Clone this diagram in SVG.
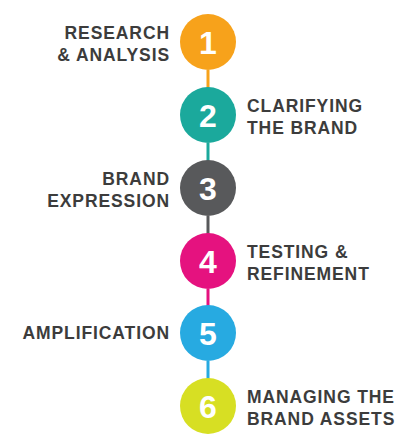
<svg xmlns="http://www.w3.org/2000/svg" width="416" height="445" viewBox="0 0 416 445">
<style>
.lbl{font-family:"Liberation Sans",Arial,sans-serif;font-weight:bold;font-size:17.5px;fill:#3c3c3c;letter-spacing:0.9px}
.l{text-anchor:end}
.num{font-family:"Liberation Sans",Arial,sans-serif;font-weight:bold;font-size:32px;fill:#ffffff;text-anchor:middle}
.c{stroke-width:3;fill:none}
</style>
<rect width="416" height="445" fill="#ffffff"/>
<g id="connectors">
<line class="c" x1="208" y1="70" x2="208" y2="88" stroke="#F7A21B"/>
<line class="c" x1="208" y1="143" x2="208" y2="161" stroke="#1BA99C"/>
<line class="c" x1="208" y1="216" x2="208" y2="234" stroke="#58595B"/>
<line class="c" x1="208" y1="289" x2="208" y2="306" stroke="#E5127F"/>
<line class="c" x1="208" y1="361" x2="208" y2="379" stroke="#27AAE1"/>
</g>
<g id="node1">
<circle cx="208" cy="42" r="28" fill="#F7A21B"/>
<text class="num" x="208" y="53.5">1</text>
<text class="lbl l" x="170" y="39">RESEARCH</text>
<text class="lbl l" x="170" y="61">&amp; ANALYSIS</text>
</g>
<g id="node2">
<circle cx="208" cy="115" r="28" fill="#1BA99C"/>
<text class="num" x="208" y="126.5">2</text>
<text class="lbl" x="247" y="112">CLARIFYING</text>
<text class="lbl" x="247" y="134">THE BRAND</text>
</g>
<g id="node3">
<circle cx="208" cy="188" r="28" fill="#58595B"/>
<text class="num" x="208" y="199.5">3</text>
<text class="lbl l" x="170" y="185">BRAND</text>
<text class="lbl l" x="170" y="207">EXPRESSION</text>
</g>
<g id="node4">
<circle cx="208" cy="261" r="28" fill="#E5127F"/>
<text class="num" x="208" y="272.5">4</text>
<text class="lbl" x="247" y="258">TESTING &amp;</text>
<text class="lbl" x="247" y="280">REFINEMENT</text>
</g>
<g id="node5">
<circle cx="208" cy="333" r="28" fill="#27AAE1"/>
<text class="num" x="208" y="344.5">5</text>
<text class="lbl l" x="170" y="339">AMPLIFICATION</text>
</g>
<g id="node6">
<circle cx="208" cy="406" r="28" fill="#D7DF23"/>
<text class="num" x="208" y="417.5">6</text>
<text class="lbl" x="247" y="403">MANAGING THE</text>
<text class="lbl" x="247" y="425">BRAND ASSETS</text>
</g>
</svg>
